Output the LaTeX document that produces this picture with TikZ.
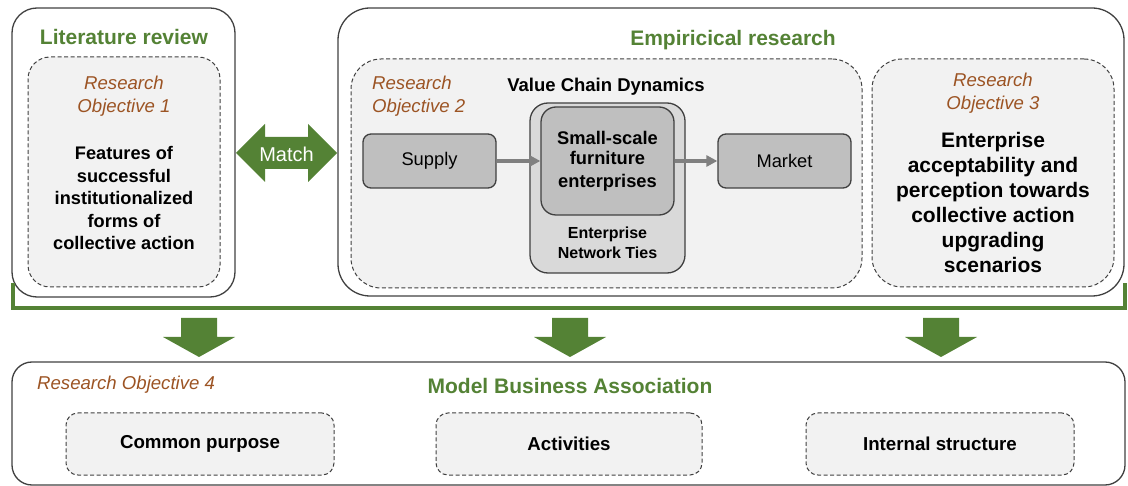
\documentclass[tikz,border=0pt]{standalone}
\usepackage{fontspec}
\setmainfont{Liberation Sans}
\usetikzlibrary{arrows.meta}
\definecolor{leafgreen}{HTML}{548235}
\definecolor{rustbrown}{HTML}{9C5424}
\definecolor{boxline}{HTML}{404040}
\definecolor{panelfill}{HTML}{F2F2F2}
\definecolor{chainfill}{HTML}{BFBFBF}
\definecolor{tiesfill}{HTML}{D9D9D9}
\definecolor{flowgray}{HTML}{808080}
\begin{document}
\begin{tikzpicture}[x=1pt,y=-1pt,
 outerbox/.style={draw=boxline,line width=1.3pt,rounded corners=#1,inner sep=0pt},
 outerbox/.default=25pt,
 dashbox/.style={draw=boxline,fill=panelfill,line width=1pt,dash pattern=on 4pt off 2.5pt,rounded corners=#1,inner sep=0pt},
 dashbox/.default=12pt,
 chainbox/.style={draw=boxline,fill=chainfill,line width=1.3pt,rounded corners=8pt,inner sep=0pt,minimum width=133pt,minimum height=54pt,font=\fontsize{18.3}{22}\selectfont},
 title/.style={text=leafgreen,inner sep=0pt,font=\fontsize{21}{25}\selectfont\bfseries},
 objlabel/.style={text=rustbrown,inner sep=0pt,align=#1,font=\fontsize{18.6}{23}\selectfont\itshape},
 objlabel/.default=center,
 flow/.style={draw=flowgray,line width=3.2pt,-{Triangle[length=11pt,width=11pt]}},
 fatarrow/.style={fill=leafgreen}]
\useasboundingbox (0,0) rectangle (1128,486);
% top row
\node[outerbox,minimum width=223pt,minimum height=289pt] (litbox) at (123.5,152.5) {};
\node[dashbox=22pt,minimum width=192pt,minimum height=230pt] (obj1) at (124,172) {};
\node[title] (littitle) at (124,37) {Literature review};
\node[objlabel] (obj1lab) at (124,96) {Research\\Objective 1};
\node[align=center,inner sep=0pt,font=\fontsize{18.2}{22.5}\selectfont\bfseries] (features) at (124,198)
 {Features of\\successful\\institutionalized\\forms of\\collective action};
\node[outerbox=32pt,minimum width=786pt,minimum height=288pt] (empbox) at (731,152) {};
\node[title] (emptitle) at (733,40) {Empiricical research};
\node[dashbox=30pt,minimum width=511pt,minimum height=229pt] (obj2) at (606.5,173.5) {};
\node[objlabel=left,anchor=west] (obj2lab) at (372,96) {Research\\Objective 2};
\node[inner sep=0pt,font=\fontsize{18.5}{22}\selectfont\bfseries] (vcd) at (606,87) {Value Chain Dynamics};
\node[dashbox=30pt,minimum width=242pt,minimum height=228pt] (obj3) at (993,173) {};
\node[objlabel] (obj3lab) at (993,93) {Research\\Objective 3};
\node[align=center,inner sep=0pt,font=\fontsize{21}{25}\selectfont\bfseries] (accept) at (993,202)
 {Enterprise\\acceptability and\\perception towards\\collective action\\upgrading\\scenarios};
% value chain
\node[chainbox] (supply) at (429.5,161) {\raisebox{-2pt}{Supply}};
\node[chainbox] (market) at (784.5,161) {\raisebox{-2pt}{Market}};
\node[draw=boxline,fill=tiesfill,line width=1.3pt,rounded corners=18pt,minimum width=155pt,minimum height=170pt] (ties) at (607.5,188) {};
\node[draw=boxline,fill=chainfill,line width=1.3pt,rounded corners=15pt,minimum width=133pt,minimum height=108pt,
 align=center,inner sep=0pt,font=\fontsize{18.3}{22.5}\selectfont\bfseries] (firms) at (607.5,161)
 {\raisebox{-2pt}{Small-scale}\\furniture\\enterprises};
\node[align=center,inner sep=0pt,font=\fontsize{16}{20}\selectfont\bfseries] (tieslab) at (607.5,243) {Enterprise\\Network Ties};
\draw[flow] (supply) -- (firms);
\draw[flow] (firms) -- (market);
% match arrow
\fill[fatarrow] (236,153) -- (265,124) -- (265,137) -- (308,137) -- (308,124) -- (337,153)
 -- (308,182) -- (308,169) -- (265,169) -- (265,182) -- cycle;
\node[text=white,inner sep=0pt,font=\fontsize{20}{24}\selectfont] (match) at (286.5,154) {Match};
% bracket and down arrows
\draw[leafgreen,line width=4pt] (13,283) |- (1125,308) -- (1125,283);
\foreach \cx in {199,570,941}
 \fill[fatarrow] (\cx-18,318) -- (\cx+18,318) -- (\cx+18,337) -- (\cx+36,337) -- (\cx,357)
  -- (\cx-36,337) -- (\cx-18,337) -- cycle;
% bottom row
\node[outerbox=20pt,minimum width=1113pt,minimum height=123pt] (mba) at (568.5,423.5) {};
\node[objlabel,anchor=west] (obj4lab) at (37,385) {Research Objective 4};
\node[title] (mbatitle) at (570,386) {Model Business Association};
\node[dashbox,minimum width=268pt,minimum height=62pt,font=\fontsize{18.7}{22}\selectfont\bfseries] (purpose) at (200,444) {Common purpose};
\node[dashbox,minimum width=266pt,minimum height=62pt,font=\fontsize{18.7}{22}\selectfont\bfseries] (activities) at (569,444) {Activities};
\node[dashbox,minimum width=268pt,minimum height=62pt,font=\fontsize{18.7}{22}\selectfont\bfseries] (internal) at (940,444) {Internal structure};
\end{tikzpicture}
\end{document}
